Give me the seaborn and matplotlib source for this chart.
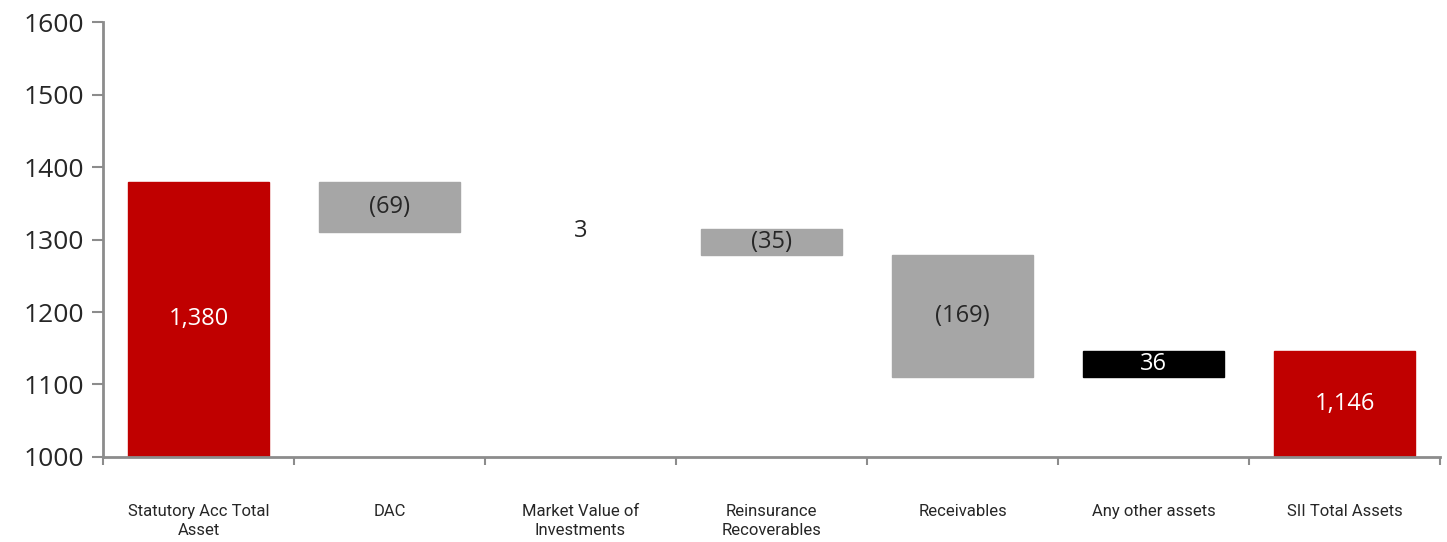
import matplotlib
matplotlib.use("Agg")
import matplotlib.pyplot as plt
import seaborn as sns
import numpy as np
import pandas as pd

# waterfall data
categories = ["Statutory Acc Total\nAsset", "DAC", "Market Value of\nInvestments",
              "Reinsurance\nRecoverables", "Receivables", "Any other assets", "SII Total Assets"]
changes = [1380, -69, 3, -35, -169, 36, 1146]
is_total = [True, False, False, False, False, False, True]
labels = ["1,380", "(69)", "3", "(35)", "(169)", "36", "1,146"]

# bar bottoms / heights
bottoms = []
heights = []
running = 0
for c, tot in zip(changes, is_total):
    if tot:
        bottoms.append(1000)
        heights.append(c - 1000)
        running = c
    else:
        lo = min(running, running + c)
        bottoms.append(lo)
        heights.append(abs(c))
        running += c

colors = []
for c, tot, name in zip(changes, is_total, categories):
    if tot:
        colors.append("#C00000")
    elif c < 0:
        colors.append("#A6A6A6")
    elif name.startswith("Market"):
        colors.append("white")  # tiny bar not visible in the original
    else:
        colors.append("black")

df = pd.DataFrame({"cat": categories, "height": heights, "bottom": bottoms})

sns.set_style("white")
fig = plt.figure(figsize=(14.47, 5.42), dpi=100)
ax = fig.add_axes([0.0712, 0.157, 0.924, 0.802])

sns.barplot(data=df, x="cat", y="height", color="#A6A6A6",
            bottom=df["bottom"].values, width=0.74, ax=ax, saturation=1)
for patch, col in zip(ax.patches, colors):
    patch.set_facecolor(col)
    patch.set_edgecolor(col)

label_colors = ["white", "#262626", "#262626", "#262626", "#262626", "white", "white"]
for i, (b, h, lab) in enumerate(zip(bottoms, heights, labels)):
    ax.text(i, b + h / 2, lab, ha="center", va="center", fontsize=17,
            color=label_colors[i], family=["Open Sans", "DejaVu Sans"])

ax.set_ylim(1000, 1600)
ax.set_xlim(-0.5, 6.5)
ax.set_yticks(np.arange(1000, 1601, 100))
ax.tick_params(axis="y", labelsize=19, length=8, width=1.5, color="#8C8C8C",
               direction="out", left=True, pad=6)
for t in ax.get_yticklabels():
    t.set_family(["Open Sans", "DejaVu Sans"])
    t.set_color("#262626")

ax.set_xticks(np.arange(-0.5, 6.6, 1), minor=True)
ax.tick_params(axis="x", which="minor", length=6, width=1.5, color="#8C8C8C",
               direction="out", bottom=True)
ax.tick_params(axis="x", which="major", length=0, pad=34, labelsize=12)
for t in ax.get_xticklabels():
    t.set_family(["Liberation Sans Narrow", "Roboto", "DejaVu Sans"])
    t.set_color("#262626")
    t.set_linespacing(1.3)

ax.set_xlabel("")
ax.set_ylabel("")
for s in ["top", "right"]:
    ax.spines[s].set_visible(False)
for s in ["left", "bottom"]:
    ax.spines[s].set_color("#8C8C8C")
    ax.spines[s].set_linewidth(2)

fig.savefig("out.png", dpi=100)
